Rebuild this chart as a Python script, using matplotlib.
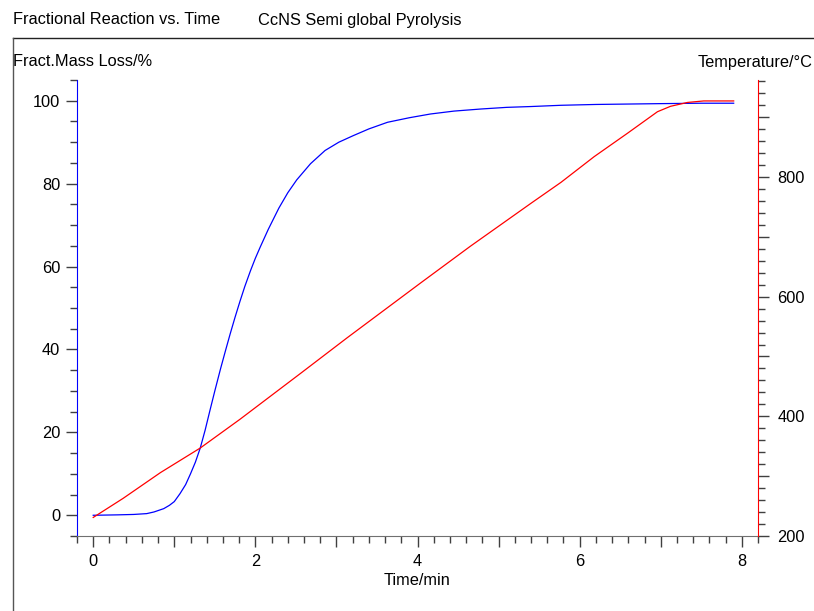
import numpy as np
import matplotlib
matplotlib.use("Agg")
from matplotlib import pyplot as plt
from matplotlib import ticker
from matplotlib.lines import Line2D

plt.rcParams['font.family'] = ['Liberation Sans', 'DejaVu Sans']
plt.rcParams['font.size'] = 11.8

# fractional mass loss (%) -> blue, left axis
t_mass = [0.0, 0.3, 0.5, 0.66, 0.75, 0.87, 0.94, 1.0, 1.07, 1.14, 1.2, 1.26, 1.32, 1.38,
          1.44, 1.5, 1.57, 1.63, 1.69, 1.75, 1.81, 1.87, 1.94, 2.0, 2.06, 2.16, 2.29,
          2.4, 2.51, 2.68, 2.86, 3.03, 3.21, 3.4, 3.63, 3.9, 4.16, 4.45, 4.78, 5.1,
          5.4, 5.77, 6.2, 6.6, 7.0, 7.5, 7.9]
mass = [0.0, 0.1, 0.2, 0.4, 0.8, 1.6, 2.4, 3.3, 5.2, 7.4, 10.0, 12.8, 16.2, 20.5,
        25.3, 30.0, 35.3, 39.6, 43.8, 47.8, 51.6, 55.2, 59.0, 62.0, 64.7, 69.0, 74.1,
        77.8, 80.9, 84.8, 88.0, 90.0, 91.6, 93.2, 94.8, 95.9, 96.8, 97.5, 98.0, 98.4,
        98.6, 98.9, 99.1, 99.2, 99.3, 99.4, 99.4]

# sample temperature (°C) -> red, right axis
t_temp = [0.0, 0.37, 0.83, 1.32, 1.81, 2.56, 3.13, 4.04, 4.65, 5.4, 5.77, 6.18,
          6.59, 6.96, 7.12, 7.33, 7.53, 7.9]
temp = [231, 263, 306, 347, 395, 472, 531, 623, 684, 756, 791, 834,
        873, 909, 918, 924.5, 927, 927]

W, H = 814, 611
fig = plt.figure(figsize=(W/100, H/100), dpi=100)
ax = fig.add_axes([77/W, 1-536/H, (758-77)/W, (536-80)/H])
ax2 = ax.twinx()

ax.plot(t_mass, mass, color='#0000ff', lw=0.9)
ax2.plot(t_temp, temp, color='#ff0000', lw=0.9)

ax.set_xlim(-0.2, 8.2)
ax.set_ylim(-5, 105)
ax2.set_ylim(200, 962)

tick_c = '#404040'
ax.xaxis.set_major_locator(ticker.MultipleLocator(1))
ax.xaxis.set_minor_locator(ticker.MultipleLocator(0.2))
ax.xaxis.set_major_formatter(ticker.FuncFormatter(lambda v, p: "%d" % v if round(v) % 2 == 0 else ""))
ax.yaxis.set_major_locator(ticker.MultipleLocator(20))
ax.yaxis.set_minor_locator(ticker.MultipleLocator(5))
ax2.yaxis.set_major_locator(ticker.MultipleLocator(100))
ax2.yaxis.set_minor_locator(ticker.MultipleLocator(20))
ax2.yaxis.set_major_formatter(ticker.FuncFormatter(lambda v, p: "%d" % v if round(v) % 200 == 0 else ""))

ax.tick_params(axis='x', which='major', length=8, width=1, color=tick_c, pad=5)
ax.tick_params(axis='x', which='minor', length=5, width=1, color=tick_c)
ax.tick_params(axis='y', which='major', length=8, width=1, color=tick_c, pad=4)
ax.tick_params(axis='y', which='minor', length=5, width=1, color=tick_c)
ax2.tick_params(axis='y', which='major', length=8, width=1, color=tick_c, pad=6)
ax2.tick_params(axis='y', which='minor', length=5, width=1, color=tick_c)

for s in ['top', 'right']:
    ax.spines[s].set_visible(False)
for s in ['top', 'left', 'bottom']:
    ax2.spines[s].set_visible(False)
ax.spines['left'].set_color('#0000ff')
ax.spines['bottom'].set_color('#707070')
ax2.spines['right'].set_color('#ff0000')

ax.set_xlabel('Time/min', labelpad=3)

# header and axis titles
fig.text(13/W, 1-20/H, "Fractional Reaction vs. Time", ha='left', va='center')
fig.text(258/W, 1-20/H, "CcNS Semi global Pyrolysis", ha='left', va='center')
fig.text(13/W, 1-62/H, "Fract.Mass Loss/%", ha='left', va='center')
fig.text(813/W, 1-62/H, "Temperature/°C", ha='right', va='center')

# open frame around the plot
fig.add_artist(Line2D([13/W, 1], [1-37.5/H, 1-37.5/H], transform=fig.transFigure, color='#222222', lw=1))
fig.add_artist(Line2D([13/W, 13/W], [1-37.5/H, 0], transform=fig.transFigure, color='#555555', lw=1))

fig.savefig('out.png', dpi=100)
